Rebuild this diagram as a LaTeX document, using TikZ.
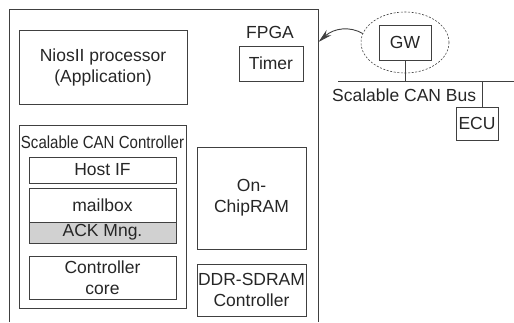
\documentclass[tikz,border=0pt]{standalone}
\usepackage{fontspec}
\setmainfont{Liberation Sans}
\usetikzlibrary{arrows.meta,shapes.geometric}
\begin{document}
\begin{tikzpicture}[x=1pt,y=-1pt,
  every node/.style={text=black!85},
  ln/.style={draw=black!75,line width=0.9pt},
  blk/.style={ln,inner sep=0pt,align=center,font=\fontsize{17.5}{21}\selectfont},
  lbl/.style={inner sep=0pt,align=center,font=\fontsize{17.5}{21}\selectfont}]
\useasboundingbox (0,0) rectangle (514,322);
% FPGA outline (open at the bottom)
\coordinate (fbl) at (9,322);
\coordinate (ftl) at (9,9);
\coordinate (ftr) at (318,9);
\coordinate (fbr) at (318,322);
\coordinate (farr) at (318.5,42);
\draw[ln] (fbl) -- (ftl) -- (ftr) -- (fbr);
\node[lbl] (fpga) at (270,32) {FPGA};
\node[blk,minimum width=168,minimum height=74] (nios) at (103,67) {NiosII processor\\(Application)};
\node[blk,minimum width=64,minimum height=35] (timer) at (271,63.5) {Timer};
\node[ln,minimum width=167,minimum height=183,inner sep=0pt] (can) at (102.5,216.5) {};
\node[lbl] (canlbl) at (102.5,142) {\scalebox{0.86}[1]{Scalable CAN Controller}};
\node[blk,minimum width=147,minimum height=26] (hostif) at (102.5,170) {Host IF};
\node[blk,minimum width=147,minimum height=34] (mailbox) at (102.5,205) {mailbox};
\node[blk,fill=black!18,minimum width=147,minimum height=21] (ack) at (102.5,232.5) {ACK Mng.};
\node[blk,minimum width=147,minimum height=43] (core) at (102.5,277.5) {Controller\\core};
\node[blk,minimum width=109,minimum height=102] (ram) at (251.5,198) {On-\\ChipRAM};
\node[blk,minimum width=109,minimum height=52] (ddr) at (251.5,290) {DDR-SDRAM\\Controller};
% CAN bus side
\node[blk,minimum width=52,minimum height=35] (gw) at (405,42.5) {GW};
\node[draw=black!75,line width=0.6pt,dash pattern=on 2pt off 1.6pt,ellipse,minimum width=88,minimum height=61,inner sep=0pt] (ell) at (405,42.5) {};
\coordinate (busl) at (338,81);
\coordinate (busr) at (514,81);
\coordinate (ecutap) at (482,81);
\draw[ln] (busl) -- (busr);
\draw[ln] (gw.south) -- (gw.south |- busl);
\node[lbl,anchor=west] (buslbl) at (332,95) {Scalable CAN Bus};
\node[blk,minimum width=42,minimum height=33] (ecu) at (477,123.5) {ECU};
\draw[ln] (ecutap) -- (ecutap |- ecu.north);
% arrow
\draw[ln,-{Stealth[length=14pt,width=7pt]}] (ell.168) .. controls (350,26) and (334,28) .. (farr);
\end{tikzpicture}
\end{document}
